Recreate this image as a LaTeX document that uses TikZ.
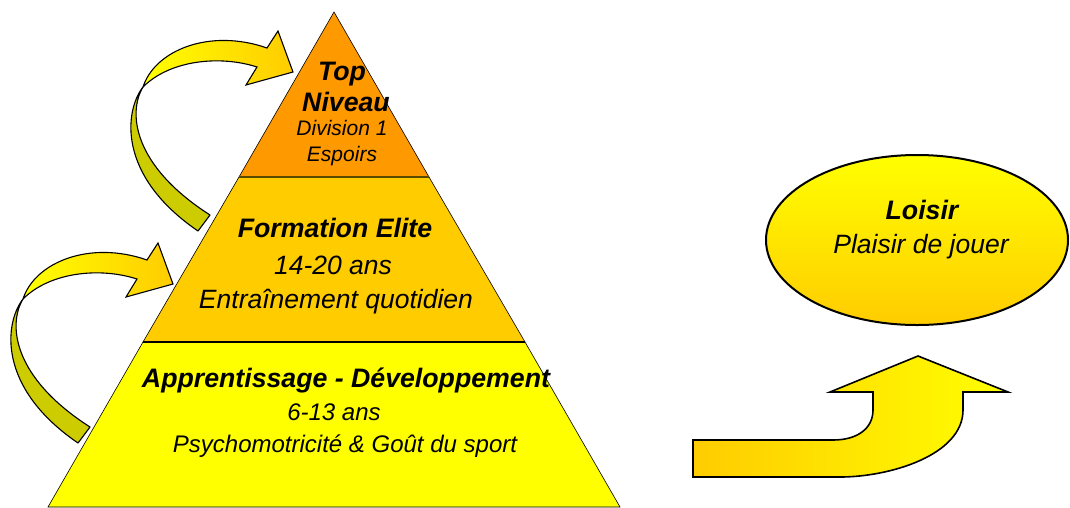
\documentclass[tikz,border=0pt]{standalone}
\usepackage{fontspec}
\setmainfont{Liberation Sans}
\definecolor{tierTop}{HTML}{FF9900}
\definecolor{tierMid}{HTML}{FFCC00}
\definecolor{tierLow}{HTML}{FFFF00}
\definecolor{gold}{HTML}{FFCC00}
\definecolor{olive}{HTML}{CCCC00}
\definecolor{divline}{HTML}{5A4A00}
\begin{document}
\begin{tikzpicture}[x=1pt,y=-1pt,
  tier/.style={draw=black,line width=0.6pt},
  ribbonback/.style={fill=olive,draw=black,line width=1.1pt,line join=round},
  ribbonfront/.style={left color=tierLow,right color=gold,draw=black,line width=1.1pt,line join=miter},
  title/.style={anchor=base,font=\bfseries\itshape\fontsize{26.7}{30}\selectfont,inner sep=0pt},
  body/.style={anchor=base,font=\itshape\fontsize{26.5}{30}\selectfont,inner sep=0pt},
  lowbody/.style={anchor=base,font=\itshape\fontsize{24}{28}\selectfont,inner sep=0pt},
  small/.style={anchor=base,font=\itshape\fontsize{21}{25}\selectfont,inner sep=0pt}]
\useasboundingbox (0,0) rectangle (1070,507);

% curved step arrows on the left of the pyramid
\foreach \dx/\dy in {0/0,-120/212}{
  \begin{scope}[shift={(\dx,\dy)}]
    \path[ribbonback] (210,215) .. controls (132,165) and (128,112) .. (143,87)
      .. controls (125,110) and (116,175) .. (198,231) -- cycle;
    \path[ribbonfront] (143,87) .. controls (155,50) and (210,28) .. (267,48)
      -- (278,31) -- (293,72) -- (246,85) -- (257,67)
      .. controls (220,55) and (170,60) .. (143,87) -- cycle;
  \end{scope}
}

% pyramid tiers
\coordinate (apex) at (334,12);
\coordinate (tl) at (239,177);
\coordinate (tr) at (429,177);
\coordinate (ml) at (143,342);
\coordinate (mr) at (525,342);
\coordinate (bl) at (48,507);
\coordinate (br) at (620,507);
\path[tier,fill=tierLow] (ml) -- (mr) -- (br) -- (bl) -- cycle;
\path[tier,fill=tierMid] (tl) -- (tr) -- (mr) -- (ml) -- cycle;
\path[tier,fill=tierTop] (apex) -- (tr) -- (tl) -- cycle;
\draw[divline,line width=2pt] (tl) -- (tr);
\draw[black,line width=2pt] (ml) -- (mr);

% tier labels
\node[title] (topA) at (342,80) {Top};
\node[title] (topB) at (346,111) {Niveau};
\node[small] (topC) at (342,135) {Division 1};
\node[small] (topD) at (342,161) {Espoirs};

\node[title] (midA) at (335,237) {Formation Elite};
\node[body] (midB) at (333,274) {14-20 ans};
\node[body] (midC) at (336,308) {Entraînement quotidien};

\node[title] (lowA) at (346,387) {Apprentissage - Développement};
\node[lowbody] (lowB) at (334,420) {6-13 ans};
\node[lowbody] (lowC) at (345,452) {Psychomotricité \& Goût du sport};

% leisure ellipse
\path[draw=black,line width=2pt,top color=tierLow,bottom color=gold]
  (917,240) ellipse [x radius=151,y radius=85];
\node[title] (leisA) at (922,219) {Loisir};
\node[body] (leisB) at (921,253) {Plaisir de jouer};

% bent arrow pointing up to the ellipse
\path[draw=black,line width=1.6pt,left color=gold,right color=tierLow,line join=miter]
  (693,440) -- (833,440) .. controls (858,440) and (873,428) .. (873,410)
  -- (873,392) -- (830,392) -- (918,356) -- (1008,392) -- (963,392) -- (963,410)
  .. controls (963,455) and (890,477) .. (840,477) -- (693,477) -- cycle;
\end{tikzpicture}
\end{document}
